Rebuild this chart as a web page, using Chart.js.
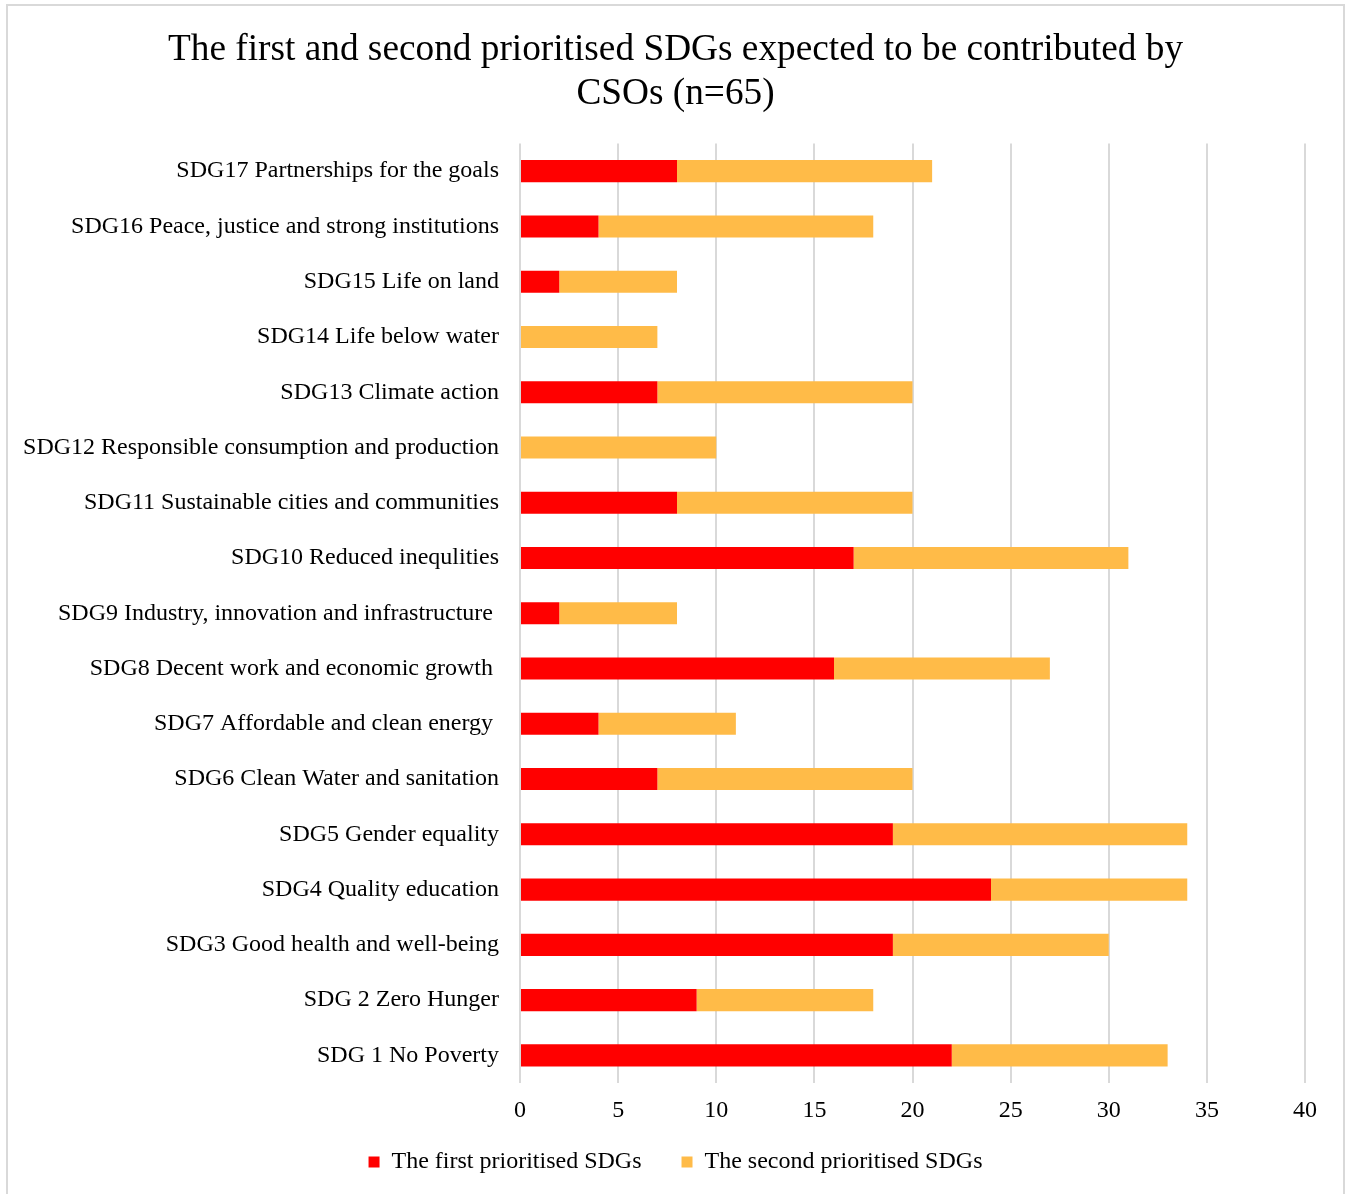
<!DOCTYPE html>
<html lang="en">
  <head>
    <title>Prioritised SDGs</title>
    <script src="https://cdn.jsdelivr.net/npm/chart.js@4.4.1/dist/chart.umd.min.js"></script>
    <style>
      body { margin: 0; background: #fff; }
      #frame {
        position: absolute;
        left: 6px;
        top: 4px;
        width: 1339px;
        height: 1200px;
        border: 2px solid #d9d9d9;
        box-sizing: border-box;
      }
    </style>
  </head>
  <body>
    <div id="frame">
      <canvas id="sdgChart" width="1335" height="1196"></canvas>
    </div>
    <script>
      // Goals, listed top to bottom as they appear on the chart
      const goals = [
        "SDG17 Partnerships for the goals",
        "SDG16 Peace, justice and strong institutions",
        "SDG15 Life on land",
        "SDG14 Life below water",
        "SDG13 Climate action",
        "SDG12 Responsible consumption and production",
        "SDG11 Sustainable cities and communities",
        "SDG10 Reduced inequlities",
        "SDG9 Industry, innovation and infrastructure ",
        "SDG8 Decent work and economic growth ",
        "SDG7 Affordable and clean energy ",
        "SDG6 Clean Water and sanitation",
        "SDG5 Gender equality",
        "SDG4 Quality education",
        "SDG3 Good health and well-being",
        "SDG 2 Zero Hunger",
        "SDG 1 No Poverty"
      ];
      const firstPriority  = [8, 4, 2, 0, 7, 0, 8, 17, 2, 16, 4, 7, 19, 24, 19, 9, 22];
      const secondPriority = [13, 14, 6, 7, 13, 10, 12, 14, 6, 11, 7, 13, 15, 10, 11, 9, 11];

      const serif = "'Liberation Serif', 'Times New Roman', serif";
      Chart.defaults.font.family = serif;
      Chart.defaults.color = "#000";

      // the x scale is kept short so the legend sits close; widen its clip box so tick labels still show
      const unclipTicks = {
        id: "unclipTicks",
        afterLayout(chart) {
          chart.scales.x.bottom += 24;
        }
      };

      new Chart(document.getElementById("sdgChart"), {
        type: "bar",
        data: {
          labels: goals,
          datasets: [
            {
              label: "The first prioritised SDGs",
              data: firstPriority,
              backgroundColor: "#ff0000",
              barPercentage: 0.4,
              categoryPercentage: 1
            },
            {
              label: "The second prioritised SDGs",
              data: secondPriority,
              backgroundColor: "#ffbb48",
              barPercentage: 0.4,
              categoryPercentage: 1
            }
          ]
        },
        options: {
          indexAxis: "y",
          responsive: false,
          animation: false,
          layout: { padding: { left: 0, right: 0, top: 0, bottom: 18 } },
          scales: {
            x: {
              stacked: true,
              min: 0,
              max: 40,
              ticks: { stepSize: 5, font: { size: 24 }, padding: 13 },
              grid: { color: "#d9d9d9", lineWidth: 2, drawTicks: false },
              border: { display: false },
              afterFit: (scale) => {
                scale.paddingRight = 38;
                scale.height = 27;
              }
            },
            y: {
              stacked: true,
              ticks: { font: { size: 24 }, padding: 21 },
              grid: { display: false, drawTicks: false },
              border: { display: false },
              afterFit: (scale) => { scale.width = 512; }
            }
          },
          plugins: {
            title: {
              display: true,
              text: ["The first and second prioritised SDGs expected to be contributed by", "CSOs (n=65)"],
              font: { size: 37.3, weight: "normal", lineHeight: 1.16 },
              padding: { top: 23, bottom: 28 }
            },
            legend: {
              position: "bottom",
              labels: {
                boxWidth: 11,
                boxHeight: 11,
                padding: 40,
                font: { size: 24 }
              }
            },
            tooltip: { enabled: false }
          }
        },
        plugins: [unclipTicks]
      });
    </script>
  </body>
</html>
